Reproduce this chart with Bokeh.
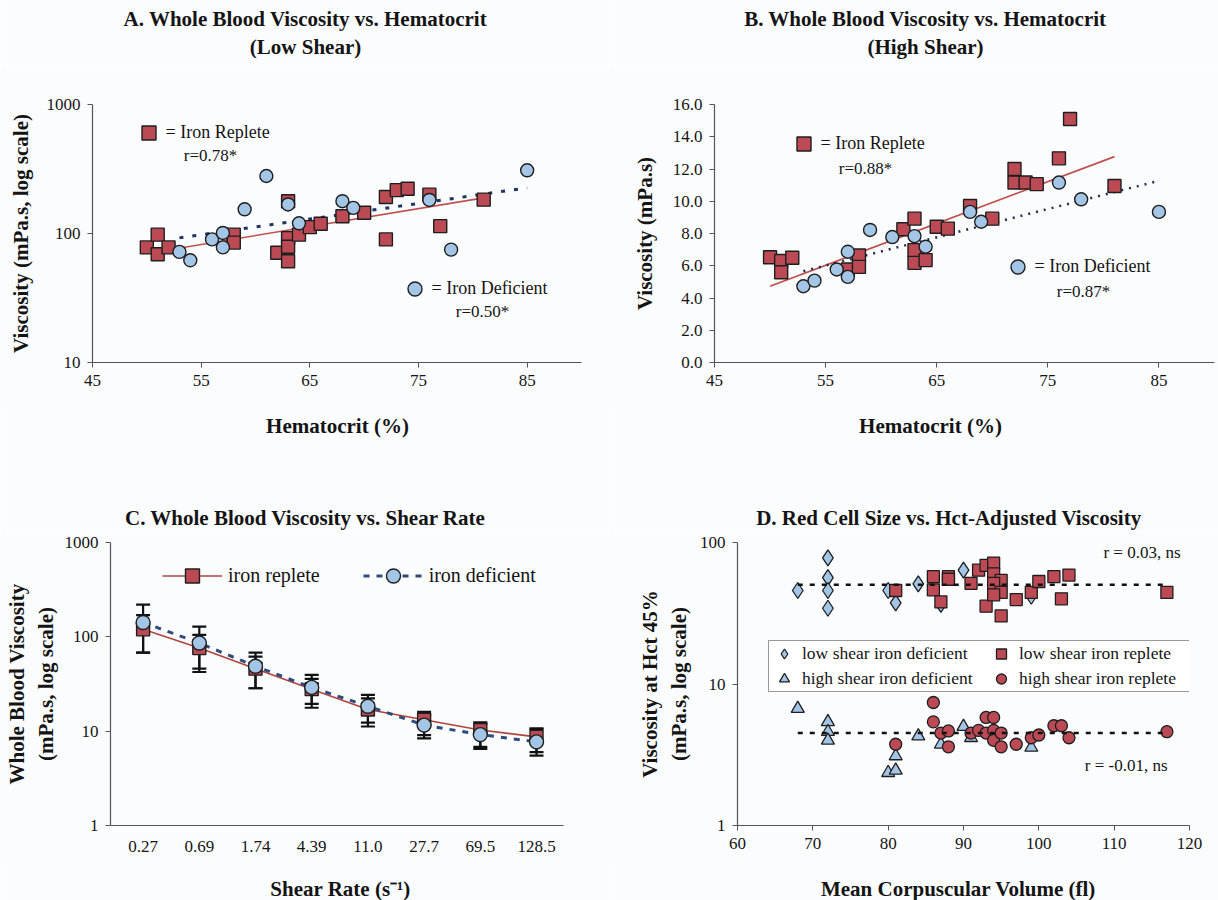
import numpy as np
from bokeh.plotting import figure
from bokeh.layouts import row, column
from bokeh.models import (Range1d, FixedTicker, PrintfTickFormatter, Label, Legend,
                          LegendItem, Whisker, TeeHead, ColumnDataSource)
from bokeh.embed import file_html
from bokeh.resources import INLINE

FONT = "Liberation Serif"
BG = "#fbfcfd"
RED = "#BC4A55"
BLUE = "#A4C6E6"
EDGE = "#1e1e1e"
TXT = "#141414"

# ---------------- data ----------------
# Panel A: low shear viscosity vs hematocrit
a_rep_hct = [50, 51, 51, 52, 58, 58, 62, 63, 63, 63, 63, 64, 65, 66, 68, 70, 72, 72, 73, 74, 76, 77, 81]
a_rep_visc = [78, 98, 69, 78, 98, 85, 71, 178, 92, 79, 61, 98, 112, 119, 136, 145, 192, 90, 217, 222, 200, 114, 183]
a_def_hct = [53, 54, 56, 57, 57, 59, 61, 63, 64, 68, 69, 76, 78, 85]
a_def_visc = [72, 62, 90, 101, 78, 154, 279, 168, 120, 178, 158, 182, 75, 309]
a_rep_fit_x = [50, 81]
a_rep_fit_y = [70, 189]
a_def_fit_x = [53, 85]
a_def_fit_y = [92.5, 226]

# Panel B: high shear viscosity vs hematocrit
b_rep_hct = [50, 51, 51, 52, 57, 58, 58, 62, 63, 63, 63, 64, 65, 66, 68, 70, 72, 72, 73, 74, 76, 77, 81]
b_rep_visc = [6.53, 6.29, 5.6, 6.5, 5.77, 6.64, 5.93, 8.26, 8.92, 6.97, 6.18, 6.35, 8.42, 8.3, 9.71,
              8.92, 12.0, 11.16, 11.16, 11.06, 12.66, 15.1, 10.95]
b_def_hct = [53, 54, 56, 57, 57, 59, 61, 63, 64, 68, 69, 76, 78, 85]
b_def_visc = [4.73, 5.08, 5.77, 6.87, 5.31, 8.22, 7.78, 7.84, 7.18, 9.34, 8.73, 11.16, 10.12, 9.34]
b_rep_fit_x = [50, 81]
b_rep_fit_y = [4.73, 12.77]
b_def_fit_x = [53, 85]
b_def_fit_y = [5.66, 11.27]

# Panel C: viscosity vs shear rate
c_shear = ["0.27", "0.69", "1.74", "4.39", "11.0", "27.7", "69.5", "128.5"]
c_rep = [120, 76, 46, 27.9, 17, 13.2, 10.3, 8.7]
c_rep_hi = [170, 105, 61.6, 35.8, 22.3, 15.0, 12.0, 10.5]
c_rep_lo = [68, 46, 28.5, 19.5, 12.3, 9.1, 6.8, 6.0]
c_def = [142, 86, 48.7, 29.1, 18.4, 11.6, 9.2, 7.7]
c_def_hi = [220, 128, 68, 39.6, 24.2, 16.0, 12.4, 10.7]
c_def_lo = [68, 42.4, 28.5, 17.7, 11.2, 8.4, 6.5, 5.5]

# Panel D: MCV vs Hct-adjusted viscosity
d_lsid_mcv = [68, 72, 72, 72, 72, 80, 81, 84, 87, 90, 99]
d_lsid_visc = [45.8, 78, 56.4, 45.8, 34.3, 45.8, 37.5, 51, 36.5, 63.7, 41.7]
d_lsir_mcv = [81, 86, 86, 87, 88, 88, 91, 92, 93, 94, 93, 94, 95, 94, 95, 94, 95, 97, 99, 100, 102, 103, 104, 117]
d_lsir_visc = [45.8, 57.3, 46.3, 38, 57.3, 55, 51.5, 63.7, 69, 71.6, 35.5, 60, 54, 51.5, 44.4, 42.7, 30.3,
               39.5, 44.4, 53, 57.3, 40, 58.9, 44.4]
d_hsid_mcv = [68, 72, 72, 72, 80, 81, 81, 84, 87, 90, 91, 99]
d_hsid_visc = [6.7, 5.4, 4.6, 4.0, 2.36, 2.45, 3.1, 4.28, 3.75, 5.0, 4.17, 3.56]
d_hsir_mcv = [81, 86, 86, 87, 88, 88, 91, 92, 93, 93, 94, 94, 94, 95, 95, 97, 99, 100, 102, 103, 104, 117]
d_hsir_visc = [3.75, 7.4, 5.4, 4.5, 4.66, 3.6, 4.5, 4.7, 4.5, 5.8, 5.8, 4.7, 4.0, 4.5, 3.6, 3.75, 4.17,
               4.36, 5.07, 5.07, 4.17, 4.6]
d_low_fit_x = [68, 117]
d_low_fit_y = [50.2, 50.2]
d_high_fit_x = [68, 117]
d_high_fit_y = [4.5, 4.5]


# ---------------- helpers ----------------
def base_fig(w, h, **kw):
    return figure(width=w, height=h, output_backend="svg", toolbar_location=None,
                  background_fill_color=BG, border_fill_color=BG, outline_line_color=None, **kw)


class Strip:
    """A plain text band (titles / x-axis titles) whose frame is the whole band."""
    def __init__(self, x0, y0, w, h):
        self.x0, self.y0, self.h = x0, y0, h
        self.p = base_fig(w, h, x_range=Range1d(0, w), y_range=Range1d(0, h),
                          x_axis_location=None, y_axis_location=None, min_border=0)
        self.p.grid.visible = False

    def label(self, X, Y, text, size="21px", bold=True):
        self.p.add_layout(Label(x=X - self.x0, y=self.h - (Y - self.y0), text=text,
                                text_font=FONT, text_font_size=size,
                                text_font_style="bold" if bold else "normal",
                                text_align="center", text_baseline="middle", text_color=TXT))


class Panel:
    def __init__(self, x0, y0, w, h, bl, br, bt, bb, x_range, y_range, ytype="linear"):
        self.fl = x0 + bl          # frame left (page px)
        self.fb = y0 + h - bb      # frame bottom (page px)
        self.p = base_fig(w, h, x_range=x_range, y_range=y_range, y_axis_type=ytype,
                          min_border_left=bl, min_border_right=br,
                          min_border_top=bt, min_border_bottom=bb)
        p = self.p
        p.grid.visible = False
        for ax in (p.xaxis, p.yaxis):
            ax.axis_line_color = "#555555"
            ax.axis_line_width = 1.2
            ax.major_tick_line_color = "#555555"
            ax.major_tick_out = 5
            ax.major_tick_in = 0
            ax.minor_tick_line_color = None
            ax.major_label_text_font = FONT
            ax.major_label_text_font_size = "17px"
            ax.major_label_text_color = TXT
            ax.axis_label_text_font = FONT
            ax.axis_label_text_font_size = "21px"
            ax.axis_label_text_font_style = "bold"
            ax.axis_label_text_color = TXT
        p.xaxis.major_label_standoff = 7
        p.yaxis.major_label_standoff = 7

    def sx(self, X):
        return X - self.fl

    def sy(self, Y):
        return self.fb - Y

    def label(self, X, Y, text, size="17px", align="center"):
        self.p.add_layout(Label(x=self.sx(X), y=self.sy(Y), x_units="screen", y_units="screen",
                                text=text, text_font=FONT, text_font_size=size,
                                text_align=align, text_baseline="middle", text_color=TXT))

    def key(self, renderers, text, cx, cy, g=35, size="18px"):
        leg = Legend(items=[LegendItem(label=text, renderers=renderers)],
                     location=(self.sx(cx) - g / 2, self.sy(cy) - g / 2),
                     padding=0, margin=0, border_line_color=None, background_fill_alpha=0,
                     glyph_width=g, glyph_height=g, label_standoff=0,
                     label_text_font=FONT, label_text_font_size=size, label_text_color=TXT)
        self.p.add_layout(leg, "center")


# ---------------- titles (top) ----------------
tA = Strip(0, 0, 615, 65)
tA.label(305, 18, "A. Whole Blood Viscosity vs. Hematocrit")
tA.label(305, 46, "(Low Shear)")
tB = Strip(615, 0, 603, 65)
tB.label(925, 18, "B. Whole Blood Viscosity vs. Hematocrit")
tB.label(925, 46, "(High Shear)")

# ---------------- Panel A ----------------
A = Panel(0, 65, 615, 340, 92, 34, 39, 43, Range1d(45, 90), Range1d(10, 1000), "log")
pa = A.p
pa.xaxis.ticker = FixedTicker(ticks=[45, 55, 65, 75, 85])
pa.yaxis.ticker = FixedTicker(ticks=[10, 100, 1000])
pa.yaxis.formatter = PrintfTickFormatter(format="%d")
pa.yaxis.axis_label = "Viscosity (mPa.s, log scale)"
pa.yaxis.axis_label_standoff = 11
pa.line(a_rep_fit_x, a_rep_fit_y, line_color="#C0504D", line_width=1.6)
pa.line(a_def_fit_x, a_def_fit_y, line_color="#1F3560", line_width=3, line_dash="4 9")
ra = pa.scatter(a_rep_hct, a_rep_visc, marker="square", size=13, fill_color=RED,
                line_color=EDGE, line_width=1.4)
ba = pa.scatter(a_def_hct, a_def_visc, marker="circle", size=13, fill_color=BLUE,
                line_color=EDGE, line_width=1.4)
A.key([ra], "= Iron Replete", 148, 132)
A.label(210, 155, "r=0.78*")
A.key([ba], "= Iron Deficient", 414, 288)
A.label(482, 311, "r=0.50*")

# ---------------- Panel B ----------------
B = Panel(615, 65, 603, 340, 99, 4, 39, 43, Range1d(45, 90), Range1d(0, 16))
pb = B.p
pb.xaxis.ticker = FixedTicker(ticks=[45, 55, 65, 75, 85])
pb.yaxis.ticker = FixedTicker(ticks=[0, 2, 4, 6, 8, 10, 12, 14, 16])
pb.yaxis.formatter = PrintfTickFormatter(format="%.1f")
pb.yaxis.axis_label = "Viscosity (mPa.s)"
pb.yaxis.axis_label_standoff = 13
pb.line(b_rep_fit_x, b_rep_fit_y, line_color="#C0504D", line_width=1.8)
pb.line(b_def_fit_x, b_def_fit_y, line_color="#1F2F4F", line_width=2.5, line_dash="2 6")
rb = pb.scatter(b_rep_hct, b_rep_visc, marker="square", size=13, fill_color=RED,
                line_color=EDGE, line_width=1.4)
bb = pb.scatter(b_def_hct, b_def_visc, marker="circle", size=13, fill_color=BLUE,
                line_color=EDGE, line_width=1.4)
B.key([rb], "= Iron Replete", 803, 143)
B.label(865, 168, "r=0.88*")
B.key([bb], "= Iron Deficient", 1017, 266)
B.label(1083, 291, "r=0.87*")

# ---------------- x titles (top) ----------------
xA = Strip(0, 405, 615, 55)
xA.label(337, 425, "Hematocrit (%)")
xB = Strip(615, 405, 603, 55)
xB.label(930, 425, "Hematocrit (%)")

# ---------------- titles (bottom) ----------------
tC = Strip(0, 460, 615, 71)
tC.label(305, 517, "C. Whole Blood Viscosity vs. Shear Rate")
tD = Strip(615, 460, 603, 71)
tD.label(951, 517, "D. Red Cell Size vs. Hct-Adjusted  Viscosity")

# ---------------- Panel C ----------------
C = Panel(0, 531, 615, 334, 110, 52, 11, 40, Range1d(-0.58, 7.48), Range1d(1, 1000), "log")
pc = C.p
cx = list(range(len(c_shear)))
pc.xaxis.ticker = FixedTicker(ticks=cx)
pc.xaxis.major_label_overrides = {i: s for i, s in zip(cx, c_shear)}
pc.xaxis.major_tick_out = 0
pc.xaxis.major_label_standoff = 15
pc.yaxis.ticker = FixedTicker(ticks=[1, 10, 100, 1000])
pc.yaxis.formatter = PrintfTickFormatter(format="%d")
pc.yaxis.axis_label = "Whole Blood Viscosity\n(mPa.s, log scale)"
pc.yaxis.axis_label_standoff = 4
csrc = ColumnDataSource(dict(x=cx, rep=c_rep, rhi=c_rep_hi, rlo=c_rep_lo,
                             dfc=c_def, dhi=c_def_hi, dlo=c_def_lo))
for up, lo in (("rhi", "rlo"), ("dhi", "dlo")):
    w = Whisker(source=csrc, base="x", upper=up, lower=lo, dimension="height",
                line_color="#111111", line_width=2.2, level="underlay",
                upper_head=TeeHead(size=14, line_color="#111111", line_width=2.2),
                lower_head=TeeHead(size=14, line_color="#111111", line_width=2.2))
    pc.add_layout(w)
lr = pc.line("x", "rep", source=csrc, line_color="#B0443C", line_width=1.6)
lb = pc.line("x", "dfc", source=csrc, line_color="#2F4B7C", line_width=3, line_dash="6 7")
sr = pc.scatter("x", "rep", source=csrc, marker="square", size=13, fill_color=RED,
                line_color=EDGE, line_width=1.4)
sb = pc.scatter("x", "dfc", source=csrc, marker="circle", size=14, fill_color=BLUE,
                line_color=EDGE, line_width=1.4)
legc = Legend(items=[LegendItem(label="iron replete", renderers=[lr, sr]),
                     LegendItem(label="iron deficient", renderers=[lb, sb])],
              orientation="horizontal", location=(C.sx(162), C.sy(575) - 17.5),
              padding=0, margin=0, spacing=43, border_line_color=None, background_fill_alpha=0,
              glyph_width=60, glyph_height=35, label_standoff=6,
              label_text_font=FONT, label_text_font_size="20px", label_text_color=TXT)
pc.add_layout(legc, "center")

# ---------------- Panel D ----------------
D = Panel(615, 531, 603, 334, 122, 29, 11, 40, Range1d(60, 120), Range1d(1, 100), "log")
pd_ = D.p
pd_.xaxis.ticker = FixedTicker(ticks=[60, 70, 80, 90, 100, 110, 120])
pd_.yaxis.ticker = FixedTicker(ticks=[1, 10, 100])
pd_.yaxis.formatter = PrintfTickFormatter(format="%d")
pd_.yaxis.axis_label = "Viscosity at Hct 45%\n(mPa.s, log scale)"
pd_.yaxis.axis_label_standoff = 6
m1 = pd_.scatter(d_lsid_mcv, d_lsid_visc, marker="diamond", size=16,
                 fill_color=BLUE, line_color=EDGE, line_width=1.3)
m2 = pd_.scatter(d_lsir_mcv, d_lsir_visc, marker="square", size=12, fill_color=RED,
                 line_color=EDGE, line_width=1.3)
m3 = pd_.scatter(d_hsid_mcv, d_hsid_visc, marker="triangle", size=13, fill_color=BLUE,
                 line_color=EDGE, line_width=1.3)
m4 = pd_.scatter(d_hsir_mcv, d_hsir_visc, marker="circle", size=12, fill_color=RED,
                 line_color=EDGE, line_width=1.3)
pd_.line(d_low_fit_x, d_low_fit_y, line_color="#111111", line_width=2.5, line_dash="5 7")
pd_.line(d_high_fit_x, d_high_fit_y, line_color="#111111", line_width=2.5, line_dash="5 7")
legd = Legend(items=[LegendItem(label="low shear iron deficient", renderers=[m1]),
                     LegendItem(label="high shear iron deficient", renderers=[m3]),
                     LegendItem(label="low shear iron replete", renderers=[m2]),
                     LegendItem(label="high shear iron replete", renderers=[m4])],
              orientation="vertical", ncols=2,
              location=(D.sx(768), D.sy(692)),
              padding=0, margin=0, spacing=0, border_line_color="#333333", border_line_width=1,
              background_fill_color="white", background_fill_alpha=1,
              glyph_width=30, glyph_height=25, label_standoff=3, label_width=184,
              label_text_font=FONT, label_text_font_size="17.5px", label_text_color=TXT)
pd_.add_layout(legd, "center")
D.label(1180, 552, "r = 0.03, ns", "17px", "right")
D.label(1167, 765, "r = -0.01, ns", "17px", "right")

# ---------------- x titles (bottom) ----------------
xC = Strip(0, 865, 615, 35)
xC.label(340, 888, "Shear Rate (s\u207b\u00b9)")
xD = Strip(615, 865, 603, 35)
xD.label(958, 888, "Mean Corpuscular Volume (fl)")

layout = column(row(tA.p, tB.p), row(pa, pb), row(xA.p, xB.p),
                row(tC.p, tD.p), row(pc, pd_), row(xC.p, xD.p))
open("out.html", "w").write(file_html(layout, INLINE))
